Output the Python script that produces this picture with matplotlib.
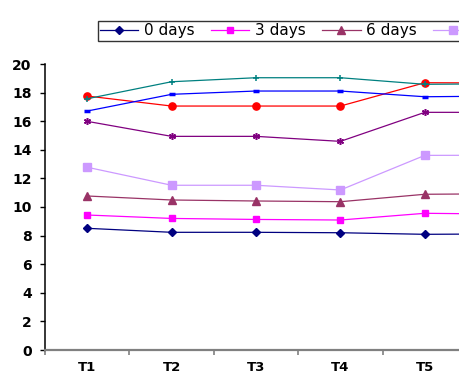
import numpy as np
import matplotlib.pyplot as plt
from matplotlib.ticker import FixedLocator

# ----------------------------

categories = ["T1", "T2", "T3", "T4", "T5", "T6"]

series_names = ["0 days", "3 days", "6 days", "9 days",
                "12 days", "15 days", "18 days", "21 days"]

d0 = [8.51, 8.23, 8.23, 8.20, 8.09, 8.12]
d3 = [9.44, 9.20, 9.13, 9.09, 9.56, 9.50]
d6 = [10.77, 10.49, 10.42, 10.37, 10.89, 10.93]
d9 = [12.78, 11.52, 11.52, 11.19, 13.61, 13.62]
d12 = [15.99, 14.94, 14.94, 14.59, 16.62, 16.62]
d15 = [17.76, 17.06, 17.06, 17.06, 18.69, 18.67]
d18 = [17.57, 18.76, 19.04, 19.04, 18.58, 18.62]
d21 = [16.71, 17.88, 18.11, 18.11, 17.71, 17.76]

# ----------------------------

values = [d0, d3, d6, d9, d12, d15, d18, d21]

styles = [
    dict(color="#000080", marker="D", markersize=4.2),
    dict(color="#FF00FF", marker="s", markersize=4.5),
    dict(color="#993366", marker="^", markersize=5.5),
    dict(color="#CC99FF", marker="s", markersize=6),
    dict(color="#800080", marker=(6, 2, 0), markersize=5, markeredgewidth=1.1),
    dict(color="#FF0000", marker="o", markersize=5.2),
    dict(color="#008080", marker="+", markersize=5, markeredgewidth=1.1),
    dict(color="#0000FF", marker="_", markersize=4.5, markeredgewidth=2.5),
]

W, H = 460, 384
fig = plt.figure(figsize=(W / 100, H / 100), dpi=100)

n = len(categories)
step = 84.4
ax = fig.add_axes([45 / W, 34 / H, n * step / W, 286 / H])

x = np.arange(n)
for name, vals, st in zip(series_names, values, styles):
    ax.plot(x, vals, linewidth=0.9, label=name, clip_on=False, **st)

ax.set_xlim(-0.5, n - 0.5)
ax.set_ylim(0, 20)
ax.set_yticks(np.arange(0, 21, 2))

ax.xaxis.set_major_locator(FixedLocator(np.arange(-0.5, n, 1)))
ax.xaxis.set_minor_locator(FixedLocator(x))
ax.set_xticklabels([])
ax.set_xticklabels(categories, minor=True)
ax.tick_params(axis="x", which="major", length=3.5, width=1.2, color="#808080", direction="out")
ax.tick_params(axis="x", which="minor", length=0, pad=8)
ax.tick_params(axis="y", length=3.6, width=1.0, pad=6, direction="out")

for lab in ax.get_xticklabels(minor=True):
    lab.set_fontweight("bold")
    lab.set_fontsize(9.5)
for lab in ax.get_yticklabels():
    lab.set_fontweight("bold")
    lab.set_fontsize(10)

ax.spines["top"].set_visible(False)
ax.spines["right"].set_visible(False)
ax.spines["bottom"].set_color("#808080")
ax.spines["bottom"].set_linewidth(1.6)
ax.spines["left"].set_color("black")
ax.spines["left"].set_linewidth(1.1)

leg = fig.legend(
    loc="upper left",
    bbox_to_anchor=(98 / W, 1 - 21 / H),
    ncol=8,
    fontsize=11,
    frameon=True,
    fancybox=False,
    edgecolor="black",
    handlelength=2.5,
    handletextpad=0.35,
    columnspacing=1.1,
    borderpad=0.15,
    borderaxespad=0,
)
leg.get_frame().set_linewidth(1.0)

plt.savefig("out.png", dpi=100)
